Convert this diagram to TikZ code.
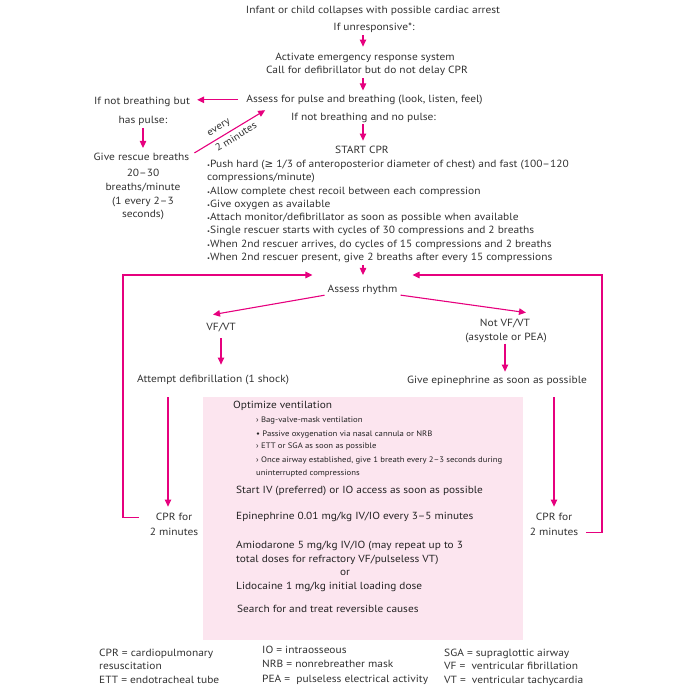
\documentclass[tikz,border=0pt]{standalone}
\usepackage{fontspec}
\setmainfont{PT Sans}[FakeStretch=1.1]
\newfontfamily\symfont{DejaVu Sans}
\usetikzlibrary{arrows.meta,calc}
\definecolor{mag}{RGB}{230,0,126}
\definecolor{boxpink}{RGB}{252,229,239}
\definecolor{ink}{RGB}{50,50,50}
\definecolor{boxink}{RGB}{35,35,35}
\newcommand\cprdot{{\fontsize{6}{6}\selectfont•}}

\begin{document}
\begin{tikzpicture}[x=1pt,y=-1pt,
  txt/.style={inner sep=0pt, text=ink, font=\fontsize{10.4}{12}\selectfont,
              text height=7.4pt, text depth=2pt, anchor=base},
  ltxt/.style={txt, anchor=base west},
  boxtxt/.style={ltxt, text=boxink, font=\fontsize{10.3}{12}\selectfont},
  subtxt/.style={ltxt, text=boxink, font=\fontsize{7.9}{9}\selectfont, text height=5.8pt, text depth=1.6pt},
  arr/.style={draw=mag, line width=1.1pt, -{Triangle[length=7pt,width=6.5pt]}},
  back/.style={draw=mag, line width=1.1pt, -{Triangle[length=7pt,width=6.5pt]}},
  slopelbl/.style={rotate=31.6, inner sep=0pt, text=ink, font=\fontsize{10}{11}\selectfont}]

\useasboundingbox (0,0) rectangle (700,700);

% treatment box (behind its text)
\node[fill=boxpink, inner sep=0pt, minimum width=320pt, minimum height=243pt,
      anchor=north west] (medbox) at (203,397) {};

% --- initial assessment ---
\node[txt] (title)  at (373,13.5) {Infant or child collapses with possible cardiac arrest};
\node[txt] (unresp) at (374,31)   {If unresponsive*:};
\node[txt] (act1)   at (365,60.5) {Activate emergency response system};
\node[txt] (act2)   at (367,73.5) {Call for defibrillator but do not delay CPR};
\node[txt] (pulse)  at (364.5,102.5) {Assess for pulse and breathing (look, listen, feel)};
\node[txt] (nobr)   at (363.5,120.5) {If not breathing and no pulse:};

% --- breathing with pulse branch ---
\node[txt] (hasp1)  at (142,104.5) {If not breathing but};
\node[txt] (hasp2)  at (143,123.5) {has pulse:};
\node[txt] (rescue) at (141.5,160.5) {Give rescue breaths};
\node[txt] (rate1)  at (143,176.5) {20–30};
\node[txt] (rate2)  at (143,190.5) {breaths/minute};
\node[txt] (rate3)  at (143,204.5) {(1 every 2–3};
\node[txt] (rate4)  at (143,217.5) {seconds)};

% --- CPR ---
\node[txt]  (startcpr) at (362,153.5) {START CPR};
\node[ltxt] (b1) at (207,167.5) {\cprdot Push hard ({\symfont ≥} 1/3 of anteroposterior diameter of chest) and fast (100–120};
\node[ltxt] (b2) at (207,180.8) {compressions/minute)};
\node[ltxt] (b3) at (207,194.1) {\cprdot Allow complete chest recoil between each compression};
\node[ltxt] (b4) at (207,207.4) {\cprdot Give oxygen as available};
\node[ltxt] (b5) at (207,220.7) {\cprdot Attach monitor/defibrillator as soon as possible when available};
\node[ltxt] (b6) at (207,234.0) {\cprdot Single rescuer starts with cycles of 30 compressions and 2 breaths};
\node[ltxt] (b7) at (207,247.3) {\cprdot When 2nd rescuer arrives, do cycles of 15 compressions and 2 breaths};
\node[ltxt] (b8) at (207,260.6) {\cprdot When 2nd rescuer present, give 2 breaths after every 15 compressions};

% --- rhythm ---
\node[txt] (rhythm) at (362.5,292.5) {Assess rhythm};
\node[txt] (vfvt)   at (221,330.5) {VF/VT};
\node[txt] (notvf1) at (505,326.5) {Not VF/VT};
\node[txt] (notvf2) at (506,340.5) {(asystole or PEA)};
\node[txt] (defib)  at (213,382.5) {Attempt defibrillation (1 shock)};
\node[txt] (epi)    at (497,383.5) {Give epinephrine as soon as possible};
\node[txt] (cprL1)  at (174,520.5) {CPR for};
\node[txt] (cprL2)  at (174,535)   {2 minutes};
\node[txt] (cprR1)  at (554,520.5) {CPR for};
\node[txt] (cprR2)  at (554,535)   {2 minutes};

% --- treatment box text ---
\node[boxtxt] (opt)  at (233,408.5) {Optimize ventilation};
\node[subtxt] (s1)   at (256,422)   {› Bag-valve-mask ventilation};
\node[subtxt] (s2)   at (256,436)   {• Passive oxygenation via nasal cannula or NRB};
\node[subtxt] (s3)   at (256,448.5) {› ETT or SGA as soon as possible};
\node[subtxt] (s4)   at (256,462)   {› Once airway established, give 1 breath every 2–3 seconds during};
\node[subtxt] (s5)   at (256,475)   {uninterrupted compressions};
\node[boxtxt] (iv)   at (236,493.5) {Start IV (preferred) or IO access as soon as possible};
\node[boxtxt] (epi2) at (236,519.5) {Epinephrine 0.01 mg/kg IV/IO every 3–5 minutes};
\node[boxtxt] (am1)  at (236,548.5) {Amiodarone 5 mg/kg IV/IO (may repeat up to 3};
\node[boxtxt] (am2)  at (236,562.5) {total doses for refractory VF/pulseless VT)};
\node[txt, text=boxink, font=\fontsize{10.3}{12}\selectfont] (or) at (345,575.5) {or};
\node[boxtxt] (lido) at (236,589.5) {Lidocaine 1 mg/kg initial loading dose};
\node[boxtxt] (srch) at (237,612.5) {Search for and treat reversible causes};

% --- abbreviations ---
\node[ltxt] (f11) at (99,656)  {CPR = cardiopulmonary};
\node[ltxt] (f12) at (99,669)  {resuscitation};
\node[ltxt] (f13) at (99,683)  {ETT = endotracheal tube};
\node[ltxt] (f21) at (262,653) {IO = intraosseous};
\node[ltxt] (f22) at (262,667) {NRB = nonrebreather mask};
\node[ltxt] (f23) at (262,682) {PEA =\ \ pulseless electrical activity};
\node[ltxt] (f31) at (444,656) {SGA = supraglottic airway};
\node[ltxt] (f32) at (444,669) {VF =\ \ ventricular fibrillation};
\node[ltxt] (f33) at (444,683) {VT =\ \ ventricular tachycardia};

% --- connectors ---
\coordinate (col) at (363,0);
\draw[arr, shorten <=2pt, shorten >=6.3pt] (unresp.south -| col) -- (act1.north -| col);
\draw[arr, shorten <=2.5pt, shorten >=4.5pt] (act2.south -| col) -- (pulse.north -| col);
\draw[arr, shorten <=8pt, shorten >=7pt] (pulse.west) -- (pulse.west -| hasp1.east);
\draw[arr, shorten <=2.5pt, shorten >=5pt] (hasp2.south) -- (hasp2.south |- rescue.north);

% re-assessment loop from rescue breathing, labelled on both sides of the line
\coordinate (diagS) at ([xshift=5pt,yshift=4.9pt]rescue.east);
\coordinate (diagE) at ([xshift=19pt,yshift=-5.5pt]pulse.south west);
\draw[arr] (diagS) -- (diagE);
\node[slopelbl] (every1) at ($(diagS)!0.41!(diagE)!8.2pt!90:(diagE)$) {every};
\node[slopelbl] (every2) at ($(diagS)!0.53!(diagE)!7.6pt!-90:(diagE)$) {2 minutes};

\draw[arr, shorten <=1.5pt, shorten >=5.3pt] (nobr.south -| col) -- (startcpr.north -| col);
\draw[arr, shorten <=2pt, shorten >=10pt] (b8.south -| col) -- (rhythm.north -| col);

\draw[arr, shorten <=3pt] (rhythm.south west) -- ([xshift=-8pt,yshift=8.3pt]vfvt.north);
\draw[arr, shorten <=3pt] (rhythm.south east) -- ([xshift=21pt,yshift=6.3pt]notvf1.north);
\draw[arr, shorten <=5.5pt, shorten >=10.3pt] (vfvt.south) -- (vfvt.south |- defib.north);
\draw[arr, shorten <=1pt, shorten >=4.3pt] (notvf2.south -| notvf1.south) -- (notvf1.south |- epi.north);
\draw[arr, shorten <=12.5pt, shorten >=6.3pt] ([xshift=-6pt]cprL1.north |- defib.south) -- ([xshift=-6pt]cprL1.north);
\draw[arr, shorten <=11.5pt, shorten >=6.3pt] (cprR1.north |- epi.south) -- (cprR1.north);

% return loops to rhythm check
\coordinate (cornerL) at (123,275);
\coordinate (cornerR) at (602,275);
\draw[back] ([xshift=-17pt]cprL1.west) -| (cornerL) -- ($(cornerL -| rhythm.west)+(-15,0)$);
\draw[back] ([xshift=8pt]cprR2.east) -| (cornerR) -- ($(cornerR -| rhythm.east)+(15,0)$);
\end{tikzpicture}
\end{document}
